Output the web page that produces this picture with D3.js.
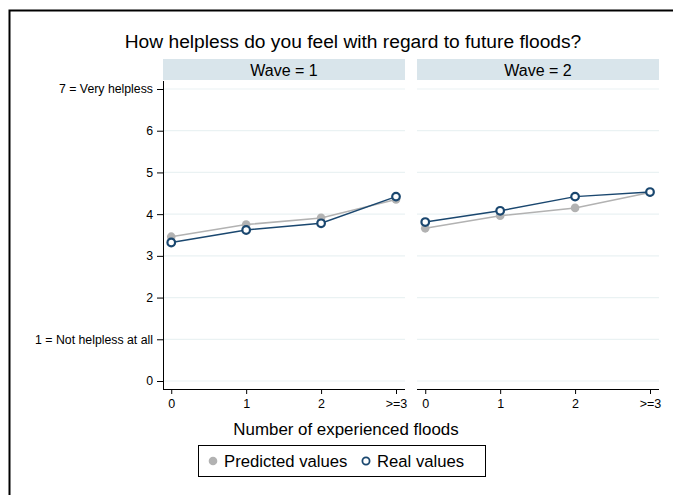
<!DOCTYPE html>
<html><head><meta charset="utf-8">
<script src="https://cdn.jsdelivr.net/npm/d3@7"></script>
<style>body{margin:0;background:#fff;} text{font-family:"Liberation Sans",Arial,sans-serif;}</style>
</head><body>
<svg id="c" width="673" height="495"></svg>
<script>
const xLabels = ["0","1","2",">=3"];
const waves = ["Wave = 1","Wave = 2"];
const predictedW1 = [3.46, 3.75, 3.91, 4.35];
const realW1      = [3.32, 3.62, 3.78, 4.42];
const predictedW2 = [3.66, 3.96, 4.15, 4.52];
const realW2      = [3.81, 4.08, 4.42, 4.53];
const yTicks = [0,1,2,3,4,5,6,7];
const yTickLabels = ["0","1 = Not helpless at all","2","3","4","5","6","7 = Very helpless"];

const svg = d3.select("#c");
// frame
svg.append("path").attr("d","M9.5,495 V10.5 H673").attr("fill","none").attr("stroke","#000").attr("stroke-width",2);

svg.append("text").attr("x",353).attr("y",48).attr("text-anchor","middle")
  .attr("font-size",19.2).attr("fill","#000").text("How helpless do you feel with regard to future floods?");

const y = d3.scaleLinear().domain([0,7]).range([381,89]);
const panels = [
  {x0:163, x1:405, pred:predictedW1, real:realW1, label:waves[0], yaxis:true},
  {x0:417, x1:659, pred:predictedW2, real:realW2, label:waves[1], yaxis:false}
];
const plotTop = 81, plotBottom = 389;
const predColor = "#b2b2b2", realColor = "#1a476f";

panels.forEach(p => {
  const x = d3.scaleLinear().domain([-0.11,3.12]).range([p.x0,p.x1]);
  const g = svg.append("g");
  // strip
  g.append("rect").attr("x",p.x0).attr("y",59).attr("width",p.x1-p.x0).attr("height",21).attr("fill","#d9e5eb");
  g.append("text").attr("x",(p.x0+p.x1)/2).attr("y",75.5).attr("text-anchor","middle").attr("font-size",16).text(p.label);
  // gridlines
  g.selectAll("line.grid").data(yTicks).enter().append("line")
    .attr("x1",p.x0).attr("x2",p.x1).attr("y1",d=>y(d)).attr("y2",d=>y(d))
    .attr("stroke","#eaf2f3").attr("stroke-width",1.2);
  // x axis
  const xa = d3.axisBottom(x).tickValues([0,1,2,3]).tickFormat((d,i)=>xLabels[i]).tickSize(5).tickPadding(5);
  const xg = g.append("g").attr("transform",`translate(0,${plotBottom})`).call(xa);
  xg.select(".domain").attr("d",`M${p.x0},0.5H${p.x1}`).attr("stroke","#000");
  xg.selectAll("text").attr("font-size",12.5).attr("fill","#000").attr("font-family","Liberation Sans, Arial, sans-serif");
  if (p.yaxis) {
    const ya = d3.axisLeft(y).tickValues(yTicks).tickFormat((d,i)=>yTickLabels[i]).tickSize(6).tickPadding(4);
    const yg = g.append("g").attr("transform",`translate(${p.x0},0)`).call(ya);
    yg.select(".domain").attr("d",`M0.5,${plotTop}V${plotBottom}`).attr("stroke","#000");
    yg.selectAll("text").attr("font-size",12.3).attr("fill","#000").attr("font-family","Liberation Sans, Arial, sans-serif");
  }
  const line = d3.line().x((d,i)=>x(i)).y(d=>y(d));
  g.append("path").attr("d",line(p.pred)).attr("fill","none").attr("stroke",predColor).attr("stroke-width",1.5);
  g.selectAll("circle.p").data(p.pred).enter().append("circle")
    .attr("cx",(d,i)=>x(i)).attr("cy",d=>y(d)).attr("r",4.3).attr("fill",predColor);
  g.append("path").attr("d",line(p.real)).attr("fill","none").attr("stroke",realColor).attr("stroke-width",1.5);
  g.selectAll("circle.r").data(p.real).enter().append("circle")
    .attr("cx",(d,i)=>x(i)).attr("cy",d=>y(d)).attr("r",3.8).attr("fill","#fff").attr("stroke",realColor).attr("stroke-width",2.2);
});

svg.append("text").attr("x",346).attr("y",435).attr("text-anchor","middle").attr("font-size",16.9).text("Number of experienced floods");

// legend
const lg = svg.append("g");
lg.append("rect").attr("x",198.5).attr("y",445.5).attr("width",287).attr("height",31).attr("fill","#fff").attr("stroke","#000").attr("stroke-width",1);
lg.append("circle").attr("cx",213).attr("cy",461).attr("r",4.3).attr("fill",predColor);
lg.append("text").attr("x",224).attr("y",467).attr("font-size",16.7).text("Predicted values");
lg.append("circle").attr("cx",366).attr("cy",461).attr("r",3.6).attr("fill","#fff").attr("stroke",realColor).attr("stroke-width",1.8);
lg.append("text").attr("x",377).attr("y",467).attr("font-size",16.7).text("Real values");
</script>
</body></html>
